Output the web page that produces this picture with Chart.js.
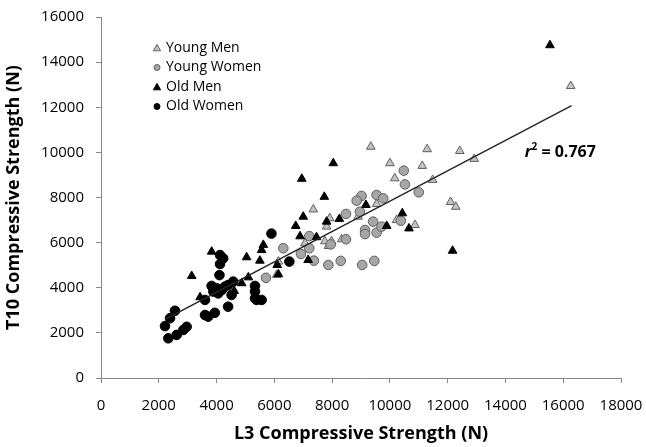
<!DOCTYPE html>
<html>
<head>
<meta charset="utf-8">
<script src="https://cdn.jsdelivr.net/npm/chart.js@4.4.1/dist/chart.umd.min.js"></script>
<style>
  html, body { margin: 0; padding: 0; background: #fff; }
  #wrap { width: 646px; height: 447px; position: relative; }
</style>
</head>
<body>
<div id="wrap"><canvas id="myChart"></canvas></div>
<script>
// values (x = L3, y = T10, in N)
const youngMenX = [7350, 7920, 7810, 8900, 7750, 7980, 7870, 8330, 9540, 10230, 6140, 7060, 9340, 10000, 10170, 11290, 12420, 11120, 11480, 12920, 12100, 12280, 10870, 16260, 6080];
const youngMenY = [7470, 7080, 6710, 7150, 6060, 6060, 5850, 6150, 7710, 7000, 5160, 5970, 10250, 9520, 8850, 10140, 10060, 9400, 8780, 9710, 7800, 7590, 6780, 12940, 4570];

const youngWomenX = [9020, 8850, 9540, 9770, 8480, 8960, 6310, 7210, 7210, 6920, 7370, 7870, 8300, 9040, 9460, 7950, 8480, 9140, 9140, 9540, 9420, 9710, 5710, 10480, 10520, 11000, 10380];
const youngWomenY = [8070, 7860, 8110, 7960, 7270, 7370, 5750, 6290, 5750, 5500, 5200, 5010, 5190, 5010, 5190, 5920, 6150, 6560, 6380, 6440, 6930, 6710, 4440, 9190, 8580, 8230, 6970];

const oldMenX = [3830, 3140, 5040, 5500, 5620, 5560, 3430, 4610, 5100, 6100, 4870, 6950, 7730, 7000, 6740, 7810, 8250, 9170, 9890, 6890, 7460, 7170, 6140, 8040, 10430, 10660, 12170, 15540];
const oldMenY = [5600, 4520, 5350, 5200, 5900, 5670, 3580, 3860, 4460, 5010, 4200, 8830, 8030, 7150, 6740, 6930, 7050, 7670, 6740, 6280, 6240, 5230, 4600, 9520, 7300, 6630, 5640, 14750];

const oldWomenX = [5900, 4120, 4230, 4120, 4100, 3830, 4000, 4180, 4290, 4400, 4580, 3890, 4060, 3600, 4520, 5330, 5330, 5330, 5390, 5560, 4400, 3600, 3710, 3940, 2560, 2390, 2215, 2965, 2850, 2620, 2330, 6520];
const oldWomenY = [6400, 5450, 5300, 5050, 4560, 4080, 3980, 3900, 4050, 4120, 4270, 3830, 3750, 3460, 3680, 4080, 3830, 3530, 3460, 3460, 3160, 2790, 2720, 2890, 2980, 2650, 2300, 2270, 2130, 1910, 1760, 5160];

const trendX = [2215, 16290];
const trendY = [2600, 12070];

const xTicks = [0, 2000, 4000, 6000, 8000, 10000, 12000, 14000, 16000, 18000];
const yTicks = [0, 2000, 4000, 6000, 8000, 10000, 12000, 14000, 16000];

const legendOrder = ["Young Men", "Young Women", "Old Men", "Old Women"];
const rSquaredText = "0.767";

function toPoints(xs, ys) {
  return xs.map((x, i) => ({ x: x, y: ys[i] }));
}

const FONT = "'Open Sans', sans-serif";

// legend sits inside the plot, top left
const legendInside = {
  id: "legendInside",
  afterDraw(chart) {
    const ctx = chart.ctx;
    const area = chart.chartArea;
    ctx.save();
    legendOrder.forEach((name, i) => {
      const d = chart.data.datasets.find((ds) => ds.label === name);
      const mx = area.left + 56;
      const my = area.top + 31 + i * 19.5;
      ctx.fillStyle = d.backgroundColor;
      ctx.strokeStyle = d.borderColor;
      ctx.lineWidth = 1;
      ctx.beginPath();
      if (d.pointStyle === "triangle") {
        ctx.moveTo(mx, my - 3.6);
        ctx.lineTo(mx + 3.6, my + 2.8);
        ctx.lineTo(mx - 3.6, my + 2.8);
        ctx.closePath();
      } else {
        ctx.arc(mx, my, 3, 0, Math.PI * 2);
      }
      ctx.fill();
      ctx.stroke();
      ctx.fillStyle = "#000";
      ctx.font = "14px " + FONT;
      ctx.textBaseline = "middle";
      ctx.textAlign = "left";
      ctx.fillText(d.label, mx + 9, my);
    });
    ctx.restore();
  },
};

const rLabel = {
  id: "rLabel",
  afterDraw(chart) {
    const ctx = chart.ctx;
    const x = chart.scales.x.getPixelForValue(15900);
    const y = chart.scales.y.getPixelForValue(10000);
    ctx.save();
    ctx.fillStyle = "#000";
    ctx.textBaseline = "middle";
    ctx.font = "italic bold 16px " + FONT;
    const rW = ctx.measureText("r").width;
    ctx.font = "bold 10px " + FONT;
    const sW = ctx.measureText("2").width;
    ctx.font = "bold 16px " + FONT;
    const rest = " = " + rSquaredText;
    const restW = ctx.measureText(rest).width;
    let sx = x - (rW + sW + restW) / 2;
    ctx.font = "italic bold 16px " + FONT;
    ctx.fillText("r", sx, y);
    ctx.font = "bold 10px " + FONT;
    ctx.fillText("2", sx + rW, y - 5);
    ctx.font = "bold 16px " + FONT;
    ctx.fillText(rest, sx + rW + sW, y);
    ctx.restore();
  },
};

const plainNumber = (v) => String(v);

const ctx1 = document.getElementById("myChart").getContext("2d");
new Chart(ctx1, {
  type: "scatter",
  data: {
    datasets: [
      {
        label: "Trend",
        type: "line",
        data: toPoints(trendX, trendY),
        borderColor: "#262626",
        borderWidth: 1.5,
        pointRadius: 0,
        fill: false,
        order: 0,
      },
      {
        label: "Old Women",
        data: toPoints(oldWomenX, oldWomenY),
        pointStyle: "circle",
        pointRadius: 4.8,
        backgroundColor: "#000000",
        borderColor: "#000000",
        borderWidth: 1,
        order: 1,
      },
      {
        label: "Old Men",
        data: toPoints(oldMenX, oldMenY),
        pointStyle: "triangle",
        pointRadius: 5,
        backgroundColor: "#000000",
        borderColor: "#000000",
        borderWidth: 1,
        order: 2,
      },
      {
        label: "Young Women",
        data: toPoints(youngWomenX, youngWomenY),
        pointStyle: "circle",
        pointRadius: 4.8,
        backgroundColor: "#a6a6a6",
        borderColor: "#5f5f5f",
        borderWidth: 1,
        order: 3,
      },
      {
        label: "Young Men",
        data: toPoints(youngMenX, youngMenY),
        pointStyle: "triangle",
        pointRadius: 5,
        backgroundColor: "#c4c4c4",
        borderColor: "#5f5f5f",
        borderWidth: 1,
        order: 4,
      },
    ],
  },
  options: {
    responsive: true,
    maintainAspectRatio: false,
    animation: false,
    layout: { padding: { top: 17, right: 25, left: 0, bottom: 0 } },
    plugins: {
      legend: { display: false },
      tooltip: { enabled: false },
    },
    scales: {
      x: {
        type: "linear",
        min: 0,
        max: 18000,
        afterBuildTicks: (scale) => {
          scale.ticks = xTicks.map((v) => ({ value: v }));
        },
        afterFit: (scale) => {
          scale.height = 69;
          scale.paddingLeft = 0;
          scale.paddingRight = 0;
        },
        grid: { drawOnChartArea: false, drawTicks: true, tickLength: 5, color: "#868686" },
        border: { color: "#868686", width: 1 },
        ticks: {
          color: "#000",
          font: { family: FONT, size: 15 },
          padding: 14,
          maxRotation: 0,
          autoSkip: false,
          callback: plainNumber,
        },
        title: {
          display: true,
          text: "L3 Compressive Strength (N)",
          color: "#000",
          font: { family: FONT, size: 18, weight: "bold" },
          padding: { top: 0, bottom: 2 },
        },
      },
      y: {
        type: "linear",
        min: 0,
        max: 16000,
        afterBuildTicks: (scale) => {
          scale.ticks = yTicks.map((v) => ({ value: v }));
        },
        afterFit: (scale) => {
          scale.width = 101;
          scale.paddingTop = 0;
          scale.paddingBottom = 0;
        },
        grid: { drawOnChartArea: false, drawTicks: true, tickLength: 5, color: "#868686" },
        border: { color: "#868686", width: 1 },
        ticks: {
          color: "#000",
          font: { family: FONT, size: 15 },
          padding: 12,
          autoSkip: false,
          callback: plainNumber,
        },
        title: {
          display: true,
          text: "T10 Compressive Strength (N)",
          color: "#000",
          font: { family: FONT, size: 18, weight: "bold" },
          padding: { top: 3, bottom: 0 },
        },
      },
    },
  },
  plugins: [legendInside, rLabel],
});
</script>
</body>
</html>
